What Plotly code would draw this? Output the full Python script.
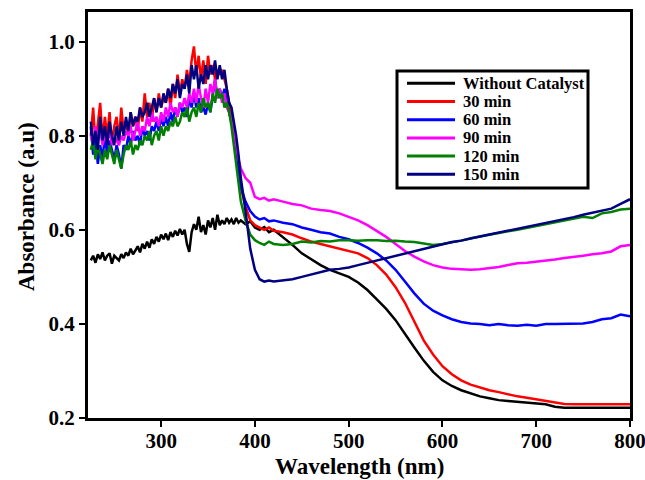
import plotly.graph_objects as go

# Wavelength grid (nm)
wavelength = [225, 227.5, 230, 232.5, 235, 237.5, 240, 242.5, 245, 247.5, 250, 252.5, 255, 257.5, 260, 262.5,
              265, 267.5, 270, 272.5, 275, 277.5, 280, 282.5, 285, 287.5, 290, 292.5, 295, 297.5, 300, 302.5,
              305, 307.5, 310, 312.5, 315, 317.5, 320, 322.5, 325, 327.5, 330, 332.5, 335, 337.5, 340, 342.5,
              345, 347.5, 350, 352.5, 355, 357.5, 360, 362.5, 365, 367.5, 370, 372.5, 375, 377.5, 380, 382.5,
              385, 390, 395, 400, 405, 410, 415, 420,
              430, 440, 450, 460, 470, 480, 490, 500, 510, 520, 530, 540, 550, 560, 570,
              580, 590, 600, 610, 620, 630, 640, 650, 660, 670, 680, 690, 700, 710, 720,
              730, 740, 750, 760, 770, 780, 790, 800]

without_catalyst = [0.535, 0.545, 0.530, 0.548, 0.538, 0.552, 0.535, 0.545, 0.550, 0.528, 0.545, 0.540,
                    0.535, 0.548, 0.540, 0.552, 0.545, 0.560, 0.548, 0.556, 0.565, 0.552, 0.570, 0.560,
                    0.575, 0.562, 0.580, 0.570, 0.585, 0.575, 0.590, 0.580, 0.592, 0.578, 0.595, 0.585,
                    0.598, 0.588, 0.602, 0.590, 0.600, 0.570, 0.553, 0.595, 0.612, 0.600, 0.628, 0.595,
                    0.610, 0.590, 0.620, 0.605, 0.625, 0.600, 0.632, 0.610, 0.620, 0.612, 0.625, 0.615,
                    0.622, 0.612, 0.625, 0.615, 0.620,
                    0.612, 0.618, 0.605, 0.600, 0.606, 0.595, 0.600,
                    0.585, 0.568, 0.550, 0.538, 0.525, 0.515, 0.508, 0.500, 0.488, 0.472, 0.452, 0.432, 0.408, 0.378, 0.350,
                    0.322, 0.298, 0.280, 0.268, 0.259, 0.252, 0.246, 0.242, 0.238, 0.236, 0.234, 0.232, 0.231, 0.229, 0.224,
                    0.222, 0.222, 0.222, 0.222, 0.222, 0.222, 0.222, 0.222]

min_30 = [0.80, 0.86, 0.78, 0.83, 0.87, 0.79, 0.84, 0.80, 0.85, 0.78, 0.82, 0.84,
          0.79, 0.86, 0.81, 0.83, 0.80, 0.85, 0.82, 0.84, 0.81, 0.86, 0.83, 0.89,
          0.84, 0.87, 0.83, 0.88, 0.85, 0.89, 0.86, 0.88, 0.87, 0.90, 0.86, 0.91,
          0.88, 0.93, 0.89, 0.92, 0.90, 0.94, 0.91, 0.96, 0.99, 0.93, 0.97, 0.92,
          0.96, 0.91, 0.97, 0.93, 0.95, 0.92, 0.94, 0.93, 0.94, 0.92, 0.90, 0.87,
          0.84, 0.80, 0.76, 0.72, 0.69,
          0.65, 0.62, 0.61, 0.605, 0.60, 0.605, 0.598,
          0.595, 0.590, 0.582, 0.575, 0.570, 0.565, 0.560, 0.555, 0.550, 0.540, 0.525, 0.505, 0.478, 0.445, 0.405,
          0.365, 0.335, 0.310, 0.293, 0.280, 0.271, 0.265, 0.259, 0.255, 0.250, 0.246, 0.243, 0.240, 0.237, 0.234,
          0.230, 0.229, 0.229, 0.229, 0.229, 0.229, 0.229, 0.229]

min_60 = [0.82, 0.76, 0.79, 0.74, 0.78, 0.75, 0.80, 0.76, 0.79, 0.77, 0.75, 0.78,
          0.76, 0.73, 0.78, 0.77, 0.80, 0.78, 0.81, 0.79, 0.80, 0.78, 0.82, 0.80,
          0.81, 0.79, 0.82, 0.81, 0.83, 0.81, 0.84, 0.82, 0.84, 0.82, 0.85, 0.83,
          0.86, 0.84, 0.87, 0.85, 0.86, 0.84, 0.88, 0.86, 0.89, 0.86, 0.88, 0.85,
          0.86, 0.845, 0.87, 0.85, 0.89, 0.92, 0.88, 0.90, 0.88, 0.90, 0.87, 0.85,
          0.83, 0.80, 0.76, 0.72, 0.69,
          0.66, 0.64, 0.628, 0.622, 0.625, 0.618, 0.62,
          0.615, 0.612, 0.605, 0.600, 0.595, 0.592, 0.585, 0.580, 0.572, 0.562, 0.550, 0.535, 0.515, 0.490, 0.465,
          0.443, 0.428, 0.418, 0.410, 0.404, 0.401, 0.400, 0.397, 0.400, 0.397, 0.396, 0.398, 0.396, 0.400, 0.400,
          0.400, 0.400, 0.401, 0.404, 0.410, 0.412, 0.420, 0.416]

min_90 = [0.80, 0.78, 0.82, 0.79, 0.81, 0.78, 0.80, 0.79, 0.81, 0.78, 0.80, 0.79,
          0.78, 0.80, 0.79, 0.81, 0.80, 0.82, 0.79, 0.81, 0.83, 0.80, 0.82, 0.81,
          0.84, 0.82, 0.85, 0.83, 0.84, 0.82, 0.85, 0.83, 0.86, 0.84, 0.87, 0.85,
          0.86, 0.84, 0.87, 0.86, 0.88, 0.86, 0.89, 0.87, 0.90, 0.87, 0.91, 0.88,
          0.86, 0.90, 0.87, 0.91, 0.89, 0.92, 0.88, 0.90, 0.87, 0.89, 0.86, 0.85,
          0.83, 0.81, 0.78, 0.75, 0.73,
          0.71, 0.70, 0.67, 0.665, 0.668, 0.662, 0.665,
          0.660, 0.655, 0.652, 0.645, 0.642, 0.640, 0.635, 0.628, 0.620, 0.610, 0.598, 0.585, 0.570, 0.555, 0.543,
          0.533, 0.525, 0.520, 0.517, 0.516, 0.515, 0.516, 0.518, 0.521, 0.525, 0.529, 0.530, 0.532, 0.535, 0.537,
          0.540, 0.542, 0.545, 0.548, 0.550, 0.554, 0.565, 0.568]

min_120 = [0.77, 0.79, 0.75, 0.78, 0.76, 0.74, 0.77, 0.75, 0.78, 0.76, 0.74, 0.77,
           0.75, 0.73, 0.76, 0.78, 0.77, 0.79, 0.76, 0.78, 0.77, 0.79, 0.78, 0.80,
           0.79, 0.81, 0.78, 0.80, 0.81, 0.79, 0.82, 0.80, 0.82, 0.81, 0.83, 0.82,
           0.84, 0.82, 0.83, 0.85, 0.84, 0.86, 0.83, 0.85, 0.86, 0.84, 0.87, 0.85,
           0.88, 0.86, 0.87, 0.85, 0.89, 0.87, 0.90, 0.88, 0.89, 0.86, 0.87, 0.85,
           0.82, 0.78, 0.74, 0.70, 0.66,
           0.62, 0.59, 0.578, 0.572, 0.568, 0.575, 0.570,
           0.568, 0.570, 0.575, 0.573, 0.576, 0.575, 0.578, 0.578, 0.577, 0.578, 0.578, 0.576, 0.577, 0.575, 0.574,
           0.571, 0.568, 0.570, 0.573, 0.577, 0.582, 0.586, 0.590, 0.593, 0.597, 0.600, 0.604, 0.607, 0.612, 0.616,
           0.620, 0.624, 0.628, 0.625, 0.635, 0.638, 0.643, 0.645]

min_150 = [0.83, 0.78, 0.81, 0.77, 0.84, 0.79, 0.82, 0.78, 0.83, 0.80, 0.78, 0.82,
           0.79, 0.83, 0.80, 0.84, 0.81, 0.85, 0.82, 0.84, 0.83, 0.86, 0.84, 0.85,
           0.87, 0.84, 0.86, 0.88, 0.85, 0.88, 0.86, 0.89, 0.87, 0.90, 0.88, 0.91,
           0.89, 0.92, 0.88, 0.91, 0.90, 0.93, 0.89, 0.95, 0.92, 0.95, 0.90, 0.93,
           0.91, 0.95, 0.92, 0.95, 0.93, 0.96, 0.92, 0.95, 0.92, 0.94, 0.90, 0.87,
           0.86, 0.83, 0.80, 0.76, 0.71,
           0.64, 0.56, 0.515, 0.495, 0.490, 0.492, 0.490,
           0.492, 0.495, 0.500, 0.505, 0.510, 0.515, 0.517, 0.520, 0.525, 0.530, 0.535, 0.540, 0.545, 0.550, 0.555,
           0.560, 0.565, 0.570, 0.574, 0.577, 0.582, 0.586, 0.590, 0.594, 0.598, 0.602, 0.606, 0.610, 0.614, 0.618,
           0.622, 0.627, 0.632, 0.636, 0.640, 0.645, 0.655, 0.665]

series_names = ["Without Catalyst", "30 min", "60 min", "90 min", "120 min", "150 min"]
series_values = [without_catalyst, min_30, min_60, min_90, min_120, min_150]
series_colors = ["#000000", "#ff0000", "#0000ff", "#ff00ff", "#008000", "#000080"]

x_ticks = [300, 400, 500, 600, 700, 800]
y_ticks = [0.2, 0.4, 0.6, 0.8, 1.0]
y_tick_labels = ["0.2", "0.4", "0.6", "0.8", "1.0"]

FONT = "Times New Roman, Liberation Serif, serif"
W, H = 645, 480
ML, MR, MT, MB = 88, 15, 12, 62
PW, PH = W - ML - MR, H - MT - MB


def px_x(px):
    return (px - ML) / PW


def px_y(py):
    return (H - MB - py) / PH


fig = go.Figure()
for name, vals, col in zip(series_names, series_values, series_colors):
    fig.add_trace(go.Scatter(x=wavelength, y=vals, mode="lines", name=name,
                             line=dict(color=col, width=2.5), showlegend=False))

# Legend box drawn in the reference style (compact rows)
shapes = [dict(type="rect", xref="paper", yref="paper",
               x0=px_x(397), x1=px_x(588), y0=px_y(188), y1=px_y(71),
               line=dict(color="black", width=3), fillcolor="white", layer="above")]
annotations = []
for i, (name, col) in enumerate(zip(series_names, series_colors)):
    yc = px_y(83.3 + 18.2 * i)
    shapes.append(dict(type="line", xref="paper", yref="paper",
                       x0=px_x(407), x1=px_x(455), y0=yc, y1=yc,
                       line=dict(color=col, width=3), layer="above"))
    annotations.append(dict(text=name, xref="paper", yref="paper", x=px_x(461), y=yc,
                            xanchor="left", yanchor="middle", showarrow=False,
                            font=dict(family=FONT, size=16.5, weight="bold", color="black")))

annotations.append(dict(text="Wavelength (nm)", xref="paper", yref="paper",
                        x=0.5, y=px_y(467), xanchor="center", yanchor="middle", showarrow=False,
                        font=dict(family=FONT, size=23, weight="bold", color="black")))
annotations.append(dict(text="Absorbance (a.u)", xref="paper", yref="paper", textangle=-90,
                        x=px_x(26), y=px_y(207), xanchor="center", yanchor="middle", showarrow=False,
                        font=dict(family=FONT, size=23, weight="bold", color="black")))

fig.update_layout(
    width=W, height=H,
    margin=dict(l=ML, r=MR, t=MT, b=MB),
    paper_bgcolor="white", plot_bgcolor="white",
    font=dict(family=FONT, color="black"),
    showlegend=False,
    shapes=shapes,
    annotations=annotations,
    xaxis=dict(range=[222, 800], tickvals=x_ticks, ticks="outside", ticklen=6, tickwidth=2,
               tickcolor="black", showline=True, linecolor="black", linewidth=3, mirror=True,
               showgrid=False, zeroline=False, automargin=False, ticklabeloverflow="allow",
               ticklabelstandoff=-4,
               tickfont=dict(family=FONT, size=21, weight="bold", color="black")),
    yaxis=dict(range=[0.2, 1.063], tickvals=y_ticks, ticktext=y_tick_labels, ticks="outside",
               ticklen=6, tickwidth=2, tickcolor="black", showline=True, linecolor="black",
               linewidth=3, mirror=True, showgrid=False, zeroline=False, automargin=False,
               tickfont=dict(family=FONT, size=21, weight="bold", color="black")),
)

fig.write_html("out.html", config={"displayModeBar": False},
               post_script="document.body.style.margin='0';document.body.style.overflow='hidden';")
